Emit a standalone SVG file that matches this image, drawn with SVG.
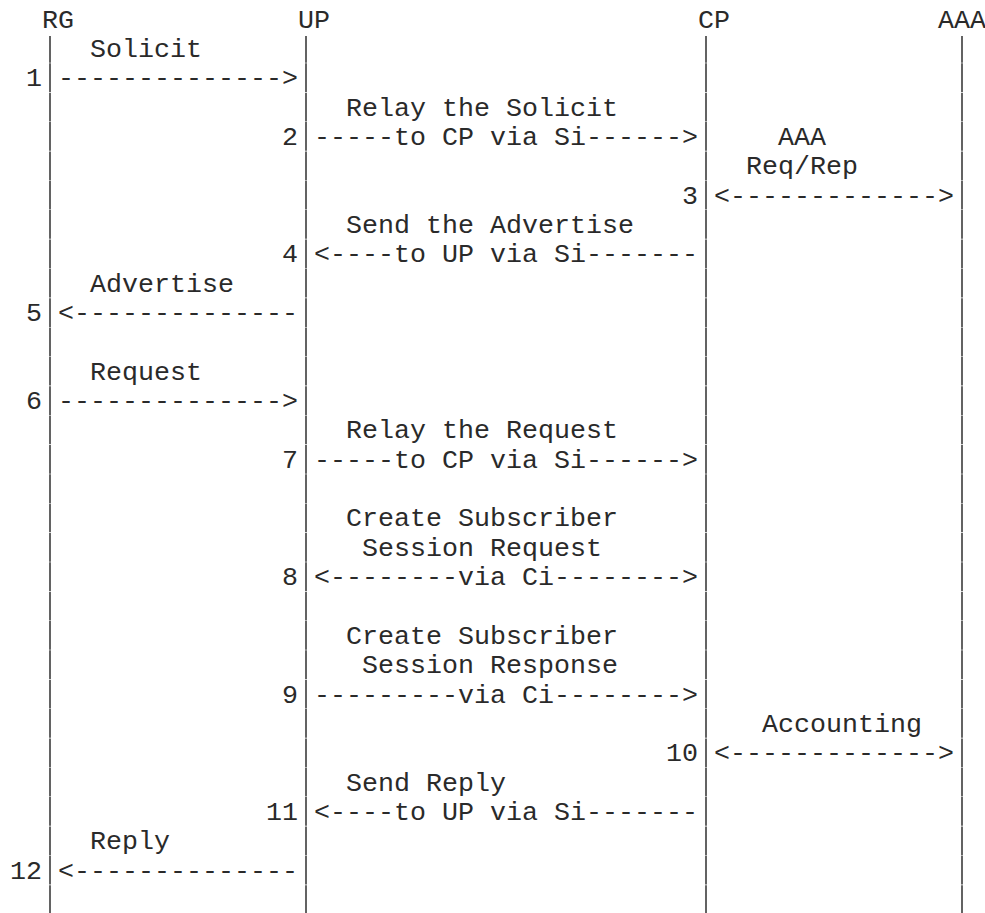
<svg xmlns="http://www.w3.org/2000/svg" width="985" height="913" viewBox="0 0 985 913">
<style>
text{font-family:"Liberation Mono","DejaVu Sans Mono",monospace;font-size:26.667px;fill:#2a2a2a;white-space:pre}
.life{stroke:#222;stroke-width:1.4;stroke-dasharray:28.75 0.6;stroke-dashoffset:2}
</style>
<rect width="985" height="913" fill="#fff"/>
<g id="node-RG"><text x="42" y="27.5">RG</text><line class="life" x1="50" y1="36" x2="50" y2="913"/></g>
<g id="node-UP"><text x="298" y="27.5">UP</text><line class="life" x1="306" y1="36" x2="306" y2="913"/></g>
<g id="node-CP"><text x="698" y="27.5">CP</text><line class="life" x1="706" y1="36" x2="706" y2="913"/></g>
<g id="node-AAA"><text x="938" y="27.5">AAA</text><line class="life" x1="962" y1="36" x2="962" y2="913"/></g>
<g id="connectors">
<text x="90" y="56.85">Solicit</text>
<text x="26" y="86.2">1</text><text x="58" y="86.2">--------------></text>
<text x="346" y="115.55">Relay the Solicit</text>
<text x="282" y="144.9">2</text><text x="314" y="144.9">-----to CP via Si------></text>
<text x="778" y="144.9">AAA</text>
<text x="746" y="174.25">Req/Rep</text>
<text x="682" y="203.6">3</text><text x="714" y="203.6">&lt;-------------></text>
<text x="346" y="232.95">Send the Advertise</text>
<text x="282" y="262.3">4</text><text x="314" y="262.3">&lt;----to UP via Si-------</text>
<text x="90" y="291.65">Advertise</text>
<text x="26" y="321">5</text><text x="58" y="321">&lt;--------------</text>
<text x="90" y="379.7">Request</text>
<text x="26" y="409.05">6</text><text x="58" y="409.05">--------------></text>
<text x="346" y="438.4">Relay the Request</text>
<text x="282" y="467.75">7</text><text x="314" y="467.75">-----to CP via Si------></text>
<text x="346" y="526.45">Create Subscriber</text>
<text x="362" y="555.8">Session Request</text>
<text x="282" y="585.15">8</text><text x="314" y="585.15">&lt;--------via Ci--------></text>
<text x="346" y="643.85">Create Subscriber</text>
<text x="362" y="673.2">Session Response</text>
<text x="282" y="702.55">9</text><text x="314" y="702.55">---------via Ci--------></text>
<text x="762" y="731.9">Accounting</text>
<text x="666" y="761.25">10</text><text x="714" y="761.25">&lt;-------------></text>
<text x="346" y="790.6">Send Reply</text>
<text x="266" y="819.95">11</text><text x="314" y="819.95">&lt;----to UP via Si-------</text>
<text x="90" y="849.3">Reply</text>
<text x="10" y="878.65">12</text><text x="58" y="878.65">&lt;--------------</text>
</g>
</svg>
